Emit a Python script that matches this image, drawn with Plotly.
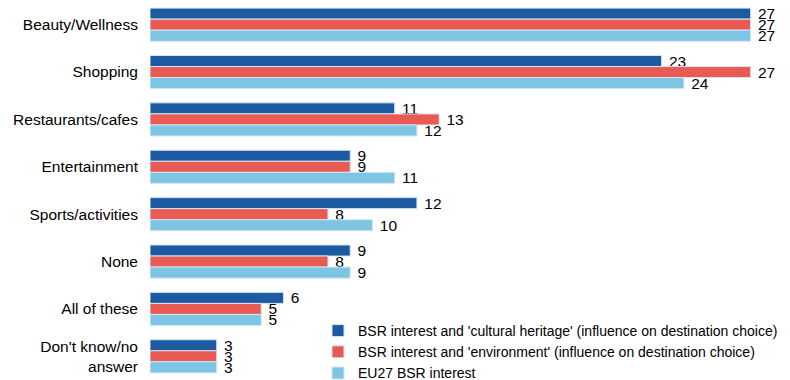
import plotly.graph_objects as go

categories = ["Beauty/Wellness", "Shopping", "Restaurants/cafes", "Entertainment",
              "Sports/activities", "None", "All of these", "Don't know/no<br>answer"]
cultural = [27, 23, 11, 9, 12, 9, 6, 3]
environment = [27, 27, 13, 9, 8, 8, 5, 3]
eu27 = [27, 24, 12, 11, 10, 9, 5, 3]

series = [
    ("BSR interest and 'cultural heritage' (influence on destination choice)", cultural, "#1C5BA2"),
    ("BSR interest and 'environment' (influence on destination choice)", environment, "#E85A52"),
    ("EU27 BSR interest", eu27, "#7EC4E3"),
]

fig = go.Figure()
for name, vals, col in series:
    fig.add_trace(go.Bar(
        y=categories, x=vals, name=name, orientation="h",
        marker=dict(color=col, line=dict(color="#d6e6f4", width=1)),
        text=[str(v) for v in vals], texttemplate=" %{text}", textposition="outside",
        textfont=dict(family="Liberation Sans, Arial", size=15.5, color="#000"),
        constraintext="none", cliponaxis=False,
    ))

fig.update_layout(
    width=790, height=380,
    margin=dict(l=150, r=6, t=1, b=0, autoexpand=False),
    barmode="group", bargap=0.3, bargroupgap=0,
    plot_bgcolor="white", paper_bgcolor="white",
    font=dict(family="Liberation Sans, Arial", size=15.5, color="#000"),
    xaxis=dict(range=[0, 28.5], showticklabels=False, showgrid=False, zeroline=False,
               showline=False, ticks="", fixedrange=True),
    yaxis=dict(autorange="reversed", showgrid=False, zeroline=False, showline=False,
               ticks="", ticklen=0, ticklabelstandoff=11, tickfont=dict(size=15.5),
               automargin=False),
    legend=dict(x=(318 - 150) / 634, y=1 - 314 / 379, xanchor="left", yanchor="top",
                font=dict(size=14), traceorder="normal", tracegroupgap=0,
                bgcolor="rgba(0,0,0,0)"),
)
fig.write_html("out.html")
